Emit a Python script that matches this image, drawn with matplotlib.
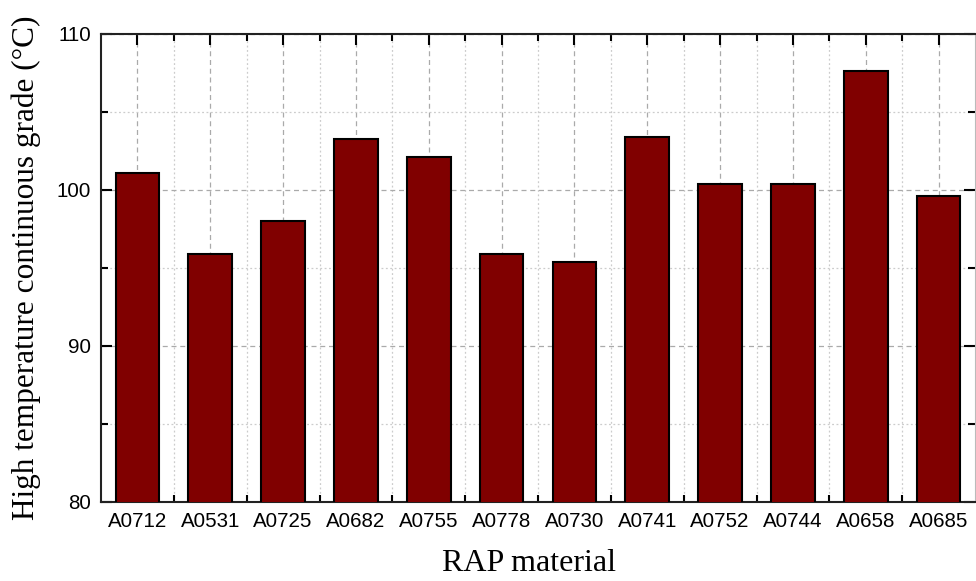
import numpy as np
import matplotlib.pyplot as plt
from matplotlib.ticker import MultipleLocator, FixedLocator

# datos
materiales = ["A0712", "A0531", "A0725", "A0682", "A0755", "A0778",
              "A0730", "A0741", "A0752", "A0744", "A0658", "A0685"]
grado_alto = [101.1, 95.9, 98.0, 103.3, 102.1, 95.9,
              95.4, 103.4, 100.4, 100.4, 107.6, 99.6]

fig = plt.figure(figsize=(9.76, 5.81), dpi=100)
ax = fig.add_axes([0.1035, 0.136, 0.8955, 0.8055])

x = np.arange(len(materiales))
ax.bar(x, grado_alto, width=0.6, color="#800000", edgecolor="black",
       linewidth=1.5, zorder=3)

ax.set_xlim(-0.5, len(materiales) - 0.5)
ax.set_ylim(80, 110)

ax.set_xticks(x)
ax.set_xticklabels(materiales, family="Liberation Sans", fontsize=14.8)
ax.xaxis.set_minor_locator(FixedLocator(x[:-1] + 0.5))
ax.yaxis.set_major_locator(MultipleLocator(10))
ax.yaxis.set_minor_locator(MultipleLocator(5))
for lab in ax.get_yticklabels():
    lab.set_family("Liberation Sans")
    lab.set_fontsize(14.8)

# ticks hacia dentro, estilo Origin
ax.tick_params(axis="both", which="both", direction="in", width=1.5)
ax.tick_params(axis="both", which="major", length=8, pad=7)
ax.tick_params(axis="both", which="minor", length=5)
ax.tick_params(axis="x", which="major", bottom=False, top=True)
ax.tick_params(axis="x", which="minor", bottom=True, top=True)
ax.tick_params(axis="y", which="both", left=True, right=True)

# rejilla
ax.grid(which="major", linestyle=(0, (4, 3)), color="#aaaaaa", linewidth=0.9, zorder=0)
ax.grid(which="minor", linestyle=(0, (1.5, 2)), color="#cccccc", linewidth=0.9, zorder=0)
ax.set_axisbelow(True)

for lado in ["left", "bottom", "top"]:
    ax.spines[lado].set_linewidth(1.5)
    ax.spines[lado].set_color("#222222")
ax.spines["right"].set_color("#bbbbbb")

ax.set_xlabel("RAP material", family="Liberation Serif", fontsize=23)
ax.set_ylabel("High temperature continuous grade (\u00b0C)", family="Liberation Serif",
              fontsize=22.5)
# posiciones de las etiquetas como en el original
ax.xaxis.set_label_coords(0.49, -0.1, transform=ax.transAxes)
ax.xaxis.label.set_va("top")
ax.yaxis.set_label_coords(-0.069, 0.5, transform=ax.transAxes)

plt.savefig("out.png", dpi=100)
